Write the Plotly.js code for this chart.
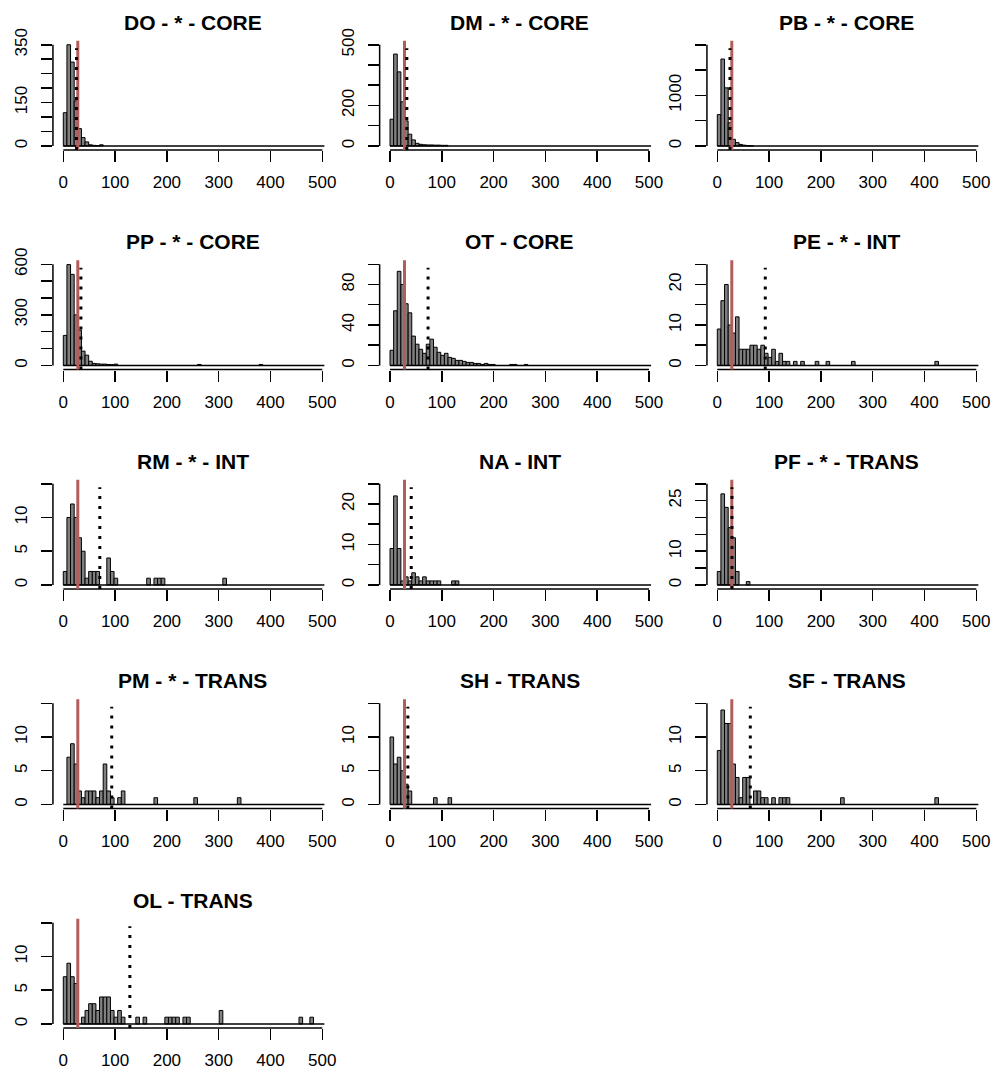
<!DOCTYPE html>
<html><head><meta charset="utf-8">
<script src="https://cdn.plot.ly/plotly-3.0.1.min.js"></script>
<style>html,body{margin:0;padding:0;background:#fff;} #plot{width:995px;height:1072px;}</style>
</head><body><div id="plot"></div>
<script>
// ---- data: weekly histogram breaks (width BIN_WIDTH) from BREAK_MIN to BREAK_MAX ----
const BIN_WIDTH = 7;
const BREAK_MIN = 0, BREAK_MAX = 504;
const X_TICKS = [0, 100, 200, 300, 400, 500];

const TITLES = ['DO - * - CORE','DM - * - CORE','PB - * - CORE','PP - * - CORE','OT - CORE','PE - * - INT',
                'RM - * - INT','NA - INT','PF - * - TRANS','PM - * - TRANS','SH - TRANS','SF - TRANS','OL - TRANS'];

// lower break of each non-empty bin, and its count
const DO_bins   = [0,7,14,21,28,35,42,49,56,63,70];
const DO_counts = [115,350,290,156,60,29,14,4,2,1,4];

const DM_bins   = [0,7,14,21,28,35,42,49,56,63,70,77,84,91,98,105];
const DM_counts = [132,454,366,218,124,58,30,13,8,6,5,5,4,4,3,3];

const PB_bins   = [0,7,14,21,28,35,42,49,56,63];
const PB_counts = [620,1718,1148,459,131,66,30,15,6,3];

const PP_bins   = [0,7,14,21,28,35,42,49,56,63,70,77,84,91,98,259,378];
const PP_counts = [178,598,540,300,210,85,61,25,12,10,8,8,6,5,8,6,6];

const OT_bins   = [0,7,14,21,28,35,42,49,56,63,70,77,84,91,98,105,112,119,126,133,140,147,154,161,168,175,182,189,196,231,238,259];
const OT_counts = [15,54,93,80,61,52,29,21,16,12,21,26,18,13,10,12,8,7,5,5,4,3,3,2,2,1,2,1,1,1,1,1];

const PE_bins   = [0,7,14,21,28,35,42,49,56,63,70,77,84,91,98,105,112,119,126,133,147,161,189,210,259,420];
const PE_counts = [9,16,20,10,8,12,4,4,4,5,5,4,5,3,2,4,1,3,1,1,1,1,1,1,1,1];

const RM_bins   = [0,7,14,21,28,35,42,49,56,63,84,91,98,161,175,182,189,308];
const RM_counts = [2,10,12,10,7,5,1,2,2,2,4,2,1,1,1,1,1,1];

const NA_bins   = [0,7,14,21,28,35,42,49,56,63,70,77,84,91,119,126];
const NA_counts = [9,22,9,1,2,1,3,2,1,2,1,1,1,1,1,1];

const PF_bins   = [0,7,14,21,28,35,56];
const PF_counts = [4,27,23,17,14,4,1];

const PM_bins   = [7,14,21,28,35,42,49,56,63,70,77,84,91,105,112,175,252,336];
const PM_counts = [7,9,6,2,1,2,2,2,1,2,6,2,1,1,2,1,1,1];

const SH_bins   = [0,7,14,21,28,35,84,112];
const SH_counts = [10,6,7,5,3,2,1,1];

const SF_bins   = [0,7,14,21,28,35,42,49,56,70,77,84,91,105,119,126,133,238,420];
const SF_counts = [8,14,12,12,6,4,1,4,4,2,2,1,1,1,1,1,1,1,1];

const OL_bins   = [0,7,14,21,35,42,49,56,63,70,77,84,91,98,105,112,140,154,196,203,210,217,231,238,301,455,476];
const OL_counts = [7,9,7,6,1,2,3,3,2,4,4,4,2,1,2,1,1,1,1,1,1,1,1,1,2,1,1];

// red solid line and black dotted line positions
const RED_LINE    = [28,28,28,28,28,28,28,28,28,28,28,28,28];
const DOTTED_LINE = [25.5,32.5,24.5,34,73.5,92.6,70.5,41,28.3,93.5,34.5,63.7,128.5];

// y axis: upper limit, tick step, labelled ticks
const Y_MAX    = [350,500,2000,600,100,25,15,25,30,15,15,15,15];
const Y_STEP   = [50,100,500,100,20,5,5,5,5,5,5,5,5];
const Y_LABELS = [[0,150,350],[0,200,500],[0,1000],[0,300,600],[0,40,80],[0,10,20],[0,5,10],[0,10,20],[0,10,25],[0,5,10],[0,5,10],[0,5,10],[0,5,10]];

const BINS   = [DO_bins,DM_bins,PB_bins,PP_bins,OT_bins,PE_bins,RM_bins,NA_bins,PF_bins,PM_bins,SH_bins,SF_bins,OL_bins];
const COUNTS = [DO_counts,DM_counts,PB_counts,PP_counts,OT_counts,PE_counts,RM_counts,NA_counts,PF_counts,PM_counts,SH_counts,SF_counts,OL_counts];

// ---- layout geometry ----
const W = 995, H = 1072;
const COL_X0 = [63.3, 390, 717.3];   // pixel of x=0 in each column
const PXU = 259 / 500;               // pixels per x unit
const ROW_TOP = 40.7, ROW_BOT = 150, ROW_PITCH = 219.5;
const FONT = 'Liberation Sans, Arial, sans-serif';

const traces = [], shapes = [], annotations = [];
const layout = {
  width: W, height: H, margin: {l:0, r:0, t:0, b:0},
  paper_bgcolor: '#fff', plot_bgcolor: 'rgba(0,0,0,0)', showlegend: false,
  shapes: shapes, annotations: annotations
};

TITLES.forEach((title, i) => {
  const r = Math.floor(i / 3), c = i % 3;
  const s = i === 0 ? '' : String(i + 1);
  const xa = 'x' + s, ya = 'y' + s;
  const left = COL_X0[c] - 20 * PXU, right = COL_X0[c] + 520 * PXU;
  const top = ROW_TOP + ROW_PITCH * r, bottom = ROW_BOT + ROW_PITCH * r;
  const ymax = Y_MAX[i];

  traces.push({
    type: 'bar', xaxis: xa, yaxis: ya,
    x: BINS[i].map(b => b + BIN_WIDTH / 2), y: COUNTS[i], width: BIN_WIDTH,
    marker: {color: '#808080', line: {color: '#000', width: 1}},
    hoverinfo: 'skip'
  });

  const yt = [];
  for (let v = 0; v <= ymax + 1e-9; v += Y_STEP[i]) yt.push(v);

  layout['xaxis' + s] = {
    domain: [left / W, right / W], anchor: ya,
    range: [X_TICKS[0] - 0.04 * (X_TICKS[5] - X_TICKS[0]), X_TICKS[5] + 0.04 * (X_TICKS[5] - X_TICKS[0])],
    tickmode: 'array', tickvals: X_TICKS, ticktext: X_TICKS.map(String),
    ticks: 'outside', ticklen: 11, tickwidth: 1.5, tickcolor: '#000',
    ticklabelstandoff: 6,
    showline: false, showgrid: false, zeroline: false,
    tickfont: {family: FONT, size: 17, color: '#000'}, tickangle: 0, fixedrange: true
  };
  layout['yaxis' + s] = {
    domain: [1 - bottom / H, 1 - top / H], anchor: xa,
    range: [-0.04 * ymax, 1.04 * ymax],
    tickmode: 'array', tickvals: yt,
    ticktext: yt.map(v => Y_LABELS[i].includes(v) ? String(v) : ''),
    tickangle: -90, ticks: 'outside', ticklen: 11, tickwidth: 1.5, tickcolor: '#000',
    ticklabelstandoff: 7,
    showline: false, showgrid: false, zeroline: false,
    tickfont: {family: FONT, size: 17, color: '#000'}, fixedrange: true
  };

  // x axis line from first to last tick
  shapes.push({type:'line', xref: xa, yref: ya + ' domain', x0: X_TICKS[0], x1: X_TICKS[X_TICKS.length-1], y0: 0, y1: 0,
               line: {color:'#000', width: 1.5}});
  // y axis line from 0 to top tick
  shapes.push({type:'line', xref: xa + ' domain', yref: ya, x0: 0, x1: 0, y0: 0, y1: yt[yt.length-1],
               line: {color:'#000', width: 1.5}});
  // border of the empty bins along all breaks
  shapes.push({type:'line', xref: xa, yref: ya, x0: BREAK_MIN, x1: BREAK_MAX, y0: 0, y1: 0,
               line: {color:'#000', width: 1.5}});
  // red vertical line
  shapes.push({type:'line', xref: xa, yref: ya + ' domain', x0: RED_LINE[i], x1: RED_LINE[i], y0: 0, y1: 1,
               line: {color:'#B25C5C', width: 3}});
  // dotted vertical line
  shapes.push({type:'line', xref: xa, yref: ya + ' domain', x0: DOTTED_LINE[i], x1: DOTTED_LINE[i], y0: 0, y1: 0.93,
               line: {color:'#000', width: 3, dash: '3px,7px'}});

  annotations.push({
    text: title, xref: 'paper', yref: 'paper',
    x: ((left + right) / 2) / W, y: 1 - (22 + ROW_PITCH * r) / H,
    xanchor: 'center', yanchor: 'middle', showarrow: false,
    font: {family: FONT, size: 21, color: '#000', weight: 'bold'}
  });
});

Plotly.newPlot('plot', traces, layout, {staticPlot: true});
</script>
</body></html>
